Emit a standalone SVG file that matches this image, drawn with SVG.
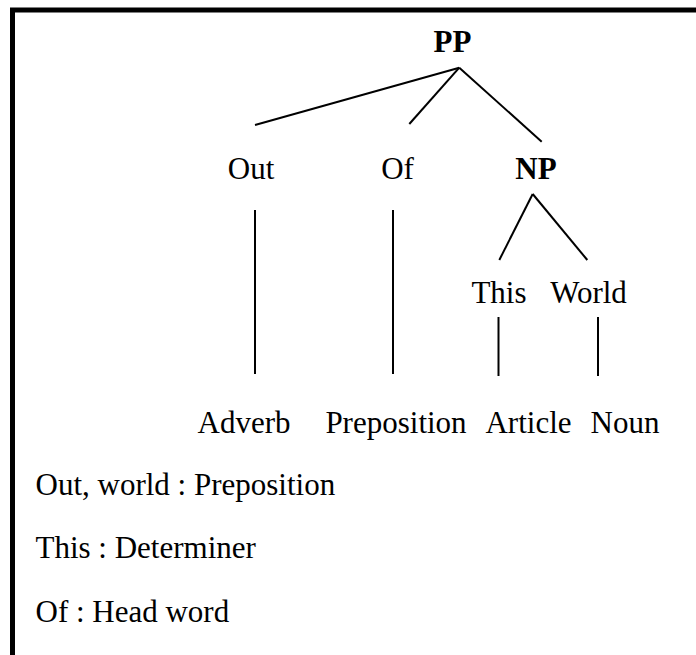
<svg xmlns="http://www.w3.org/2000/svg" width="696" height="655" viewBox="0 0 696 655">
<style>
text{font-family:"Liberation Serif","Times New Roman",serif;font-size:31px;fill:#000}
.c{text-anchor:middle}
.b{font-weight:bold}
.ln line{stroke:#000;stroke-width:2;stroke-linecap:butt}
</style>
<rect x="0" y="0" width="696" height="655" fill="#fff"/>
<rect id="frame" x="12.5" y="10" width="700" height="660" fill="none" stroke="#000" stroke-width="5"/>
<g id="connectors" class="ln">
<line x1="459.3" y1="67.7" x2="255" y2="125"/>
<line x1="459.3" y1="67.7" x2="409.3" y2="124"/>
<line x1="459.3" y1="67.7" x2="541.7" y2="141.7"/>
<line x1="532.7" y1="194" x2="499.3" y2="260"/>
<line x1="532.7" y1="194" x2="587.3" y2="260"/>
<line x1="255" y1="210" x2="255" y2="374"/>
<line x1="393" y1="210" x2="393" y2="374"/>
<line x1="498.5" y1="317" x2="498.5" y2="376"/>
<line x1="598" y1="317" x2="598" y2="376"/>
</g>
<g id="PP"><text class="c b" x="452.5" y="51.7">PP</text></g>
<g id="Out"><text class="c" x="251" y="179">Out</text></g>
<g id="Of"><text class="c" x="397.5" y="179">Of</text></g>
<g id="NP"><text class="c b" x="536" y="179">NP</text></g>
<g id="This"><text class="c" x="499" y="303">This</text></g>
<g id="World"><text class="c" x="588.5" y="303">World</text></g>
<g id="Adverb"><text class="c" x="244" y="433">Adverb</text></g>
<g id="Preposition"><text class="c" x="396" y="433">Preposition</text></g>
<g id="Article"><text class="c" x="528.5" y="433">Article</text></g>
<g id="Noun"><text class="c" x="625" y="433">Noun</text></g>
<g id="legend">
<text x="35.5" y="495">Out, world : Preposition</text>
<text x="35.5" y="558">This : Determiner</text>
<text x="35.5" y="622">Of : Head word</text>
</g>
</svg>
